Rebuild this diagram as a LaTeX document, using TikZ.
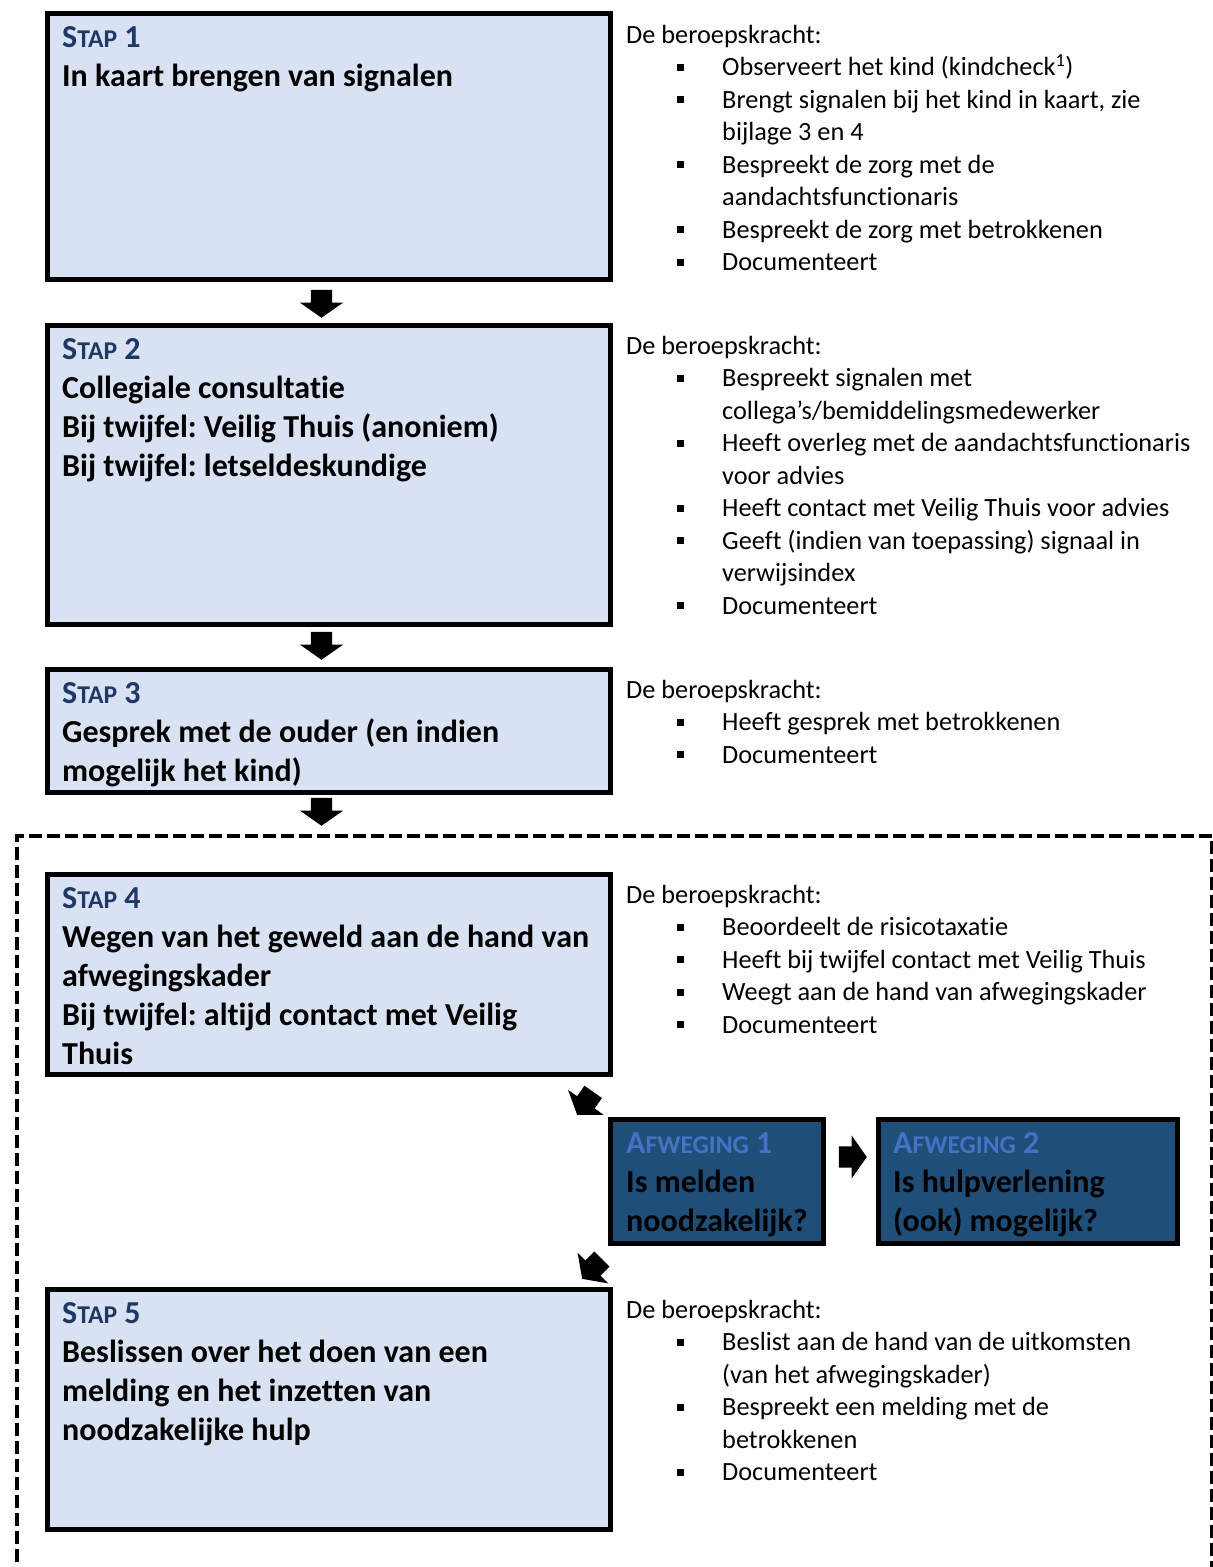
\documentclass[tikz,border=0pt]{standalone}
\usepackage{fontspec}
\setmainfont{Carlito}[Ligatures={NoCommon,NoContextual}]
\usetikzlibrary{shapes.arrows}
\definecolor{stapfill}{HTML}{D9E2F3}
\definecolor{stapnavy}{HTML}{1F3864}
\definecolor{afwfill}{HTML}{1F4E79}
\definecolor{afwtitle}{HTML}{4472C4}
\newcommand\mytitle[3]{#1{\fontsize{25.6}{39}\selectfont #2} #3}
\newcommand\bul{\hspace*{51pt}\rule[5pt]{7pt}{7pt}\hspace*{38pt}}
\newcommand\cont{\hspace*{96pt}}
\frenchspacing
\begin{document}
\begin{tikzpicture}[x=1pt,y=-1pt,
  stapbox/.style={draw=black, line width=5pt, fill=stapfill, anchor=north west, inner sep=0pt, outer sep=0pt},
  afwbox/.style={draw=black, line width=5pt, fill=afwfill, anchor=north west, inner sep=0pt, outer sep=0pt},
  boldtext/.style={anchor=base west, inner sep=0pt, font=\fontsize{32}{39}\selectfont\bfseries},
  listtext/.style={anchor=base west, inner sep=0pt, font=\fontsize{26.3}{32.5}\selectfont},
  blockarrow/.style={single arrow, fill=black, draw=none, inner xsep=0pt, inner ysep=10.5pt, single arrow head extend=11pt, single arrow tip angle=110, minimum height=28pt, anchor=tip},
  framestyle/.style={line width=3.5pt, dash pattern=on 13pt off 5pt}
]
\useasboundingbox (0,0) rectangle (1213,1567);

% dashed frame
\coordinate (fBL) at (17,1580);
\coordinate (fTL) at (17,836);
\coordinate (fTR) at (1212,836);
\coordinate (fBR) at (1212,1580);
\draw[framestyle] (fBL) -- (fTL) -- (fTR) -- (fBR);

% boxes
\node[stapbox, minimum width=563pt, minimum height=266pt] (s1) at (47.5,13.5) {};
\node[stapbox, minimum width=563pt, minimum height=299pt] (s2) at (47.5,325.5) {};
\node[stapbox, minimum width=563pt, minimum height=123pt] (s3) at (47.5,669.5) {};
\node[stapbox, minimum width=563pt, minimum height=200pt] (s4) at (47.5,874.5) {};
\node[stapbox, minimum width=563pt, minimum height=240pt] (s5) at (47.5,1289.5) {};
\node[afwbox, minimum width=213pt, minimum height=124pt] (a1) at (610.5,1119.5) {};
\node[afwbox, minimum width=299pt, minimum height=124pt] (a2) at (878.5,1119.5) {};

% box texts
\node[boldtext] (s1t) at (62,47) {\begin{tabular}[t]{@{}l@{}}
{\color{stapnavy}\mytitle{S}{TAP}{1}}\\
In kaart brengen van signalen\end{tabular}};
\node[boldtext] (s2t) at (62,359) {\begin{tabular}[t]{@{}l@{}}
{\color{stapnavy}\mytitle{S}{TAP}{2}}\\
Collegiale consultatie\\
Bij twijfel: Veilig Thuis (anoniem)\\
Bij twijfel: letseldeskundige\end{tabular}};
\node[boldtext] (s3t) at (62,703) {\begin{tabular}[t]{@{}l@{}}
{\color{stapnavy}\mytitle{S}{TAP}{3}}\\
Gesprek met de ouder (en indien\\
mogelijk het kind)\end{tabular}};
\node[boldtext] (s4t) at (62,908) {\begin{tabular}[t]{@{}l@{}}
{\color{stapnavy}\mytitle{S}{TAP}{4}}\\
Wegen van het geweld aan de hand van\\
afwegingskader\\
Bij twijfel: altijd contact met Veilig\\
Thuis\end{tabular}};
\node[boldtext] (s5t) at (62,1323) {\begin{tabular}[t]{@{}l@{}}
{\color{stapnavy}\mytitle{S}{TAP}{5}}\\
Beslissen over het doen van een\\
melding en het inzetten van\\
noodzakelijke hulp\end{tabular}};
\node[boldtext] (a1t) at (626,1153) {\begin{tabular}[t]{@{}l@{}}
{\color{afwtitle}\mytitle{A}{FWEGING}{1}}\\
Is melden\\
noodzakelijk?\end{tabular}};
\node[boldtext] (a2t) at (893,1153) {\begin{tabular}[t]{@{}l@{}}
{\color{afwtitle}\mytitle{A}{FWEGING}{2}}\\
Is hulpverlening\\
(ook) mogelijk?\end{tabular}};

% right lists
\node[listtext] (r1) at (626,43) {\begin{tabular}[t]{@{}l@{}}
De beroepskracht:\\
\bul Observeert het kind (kindcheck\textsuperscript{1})\\
\bul Brengt signalen bij het kind in kaart, zie\\
\cont bijlage 3 en 4\\
\bul Bespreekt de zorg met de\\
\cont aandachtsfunctionaris\\
\bul Bespreekt de zorg met betrokkenen\\
\bul Documenteert\end{tabular}};
\node[listtext] (r2) at (626,354) {\begin{tabular}[t]{@{}l@{}}
De beroepskracht:\\
\bul Bespreekt signalen met\\
\cont collega’s/bemiddelingsmedewerker\\
\bul Heeft overleg met de aandachtsfunctionaris\\
\cont voor advies\\
\bul Heeft contact met Veilig Thuis voor advies\\
\bul Geeft (indien van toepassing) signaal in\\
\cont verwijsindex\\
\bul Documenteert\end{tabular}};
\node[listtext] (r3) at (626,698) {\begin{tabular}[t]{@{}l@{}}
De beroepskracht:\\
\bul Heeft gesprek met betrokkenen\\
\bul Documenteert\end{tabular}};
\node[listtext] (r4) at (626,903) {\begin{tabular}[t]{@{}l@{}}
De beroepskracht:\\
\bul Beoordeelt de risicotaxatie\\
\bul Heeft bij twijfel contact met Veilig Thuis\\
\bul Weegt aan de hand van afwegingskader\\
\bul Documenteert\end{tabular}};
\node[listtext] (r5) at (626,1318) {\begin{tabular}[t]{@{}l@{}}
De beroepskracht:\\
\bul Beslist aan de hand van de uitkomsten\\
\cont (van het afwegingskader)\\
\bul Bespreekt een melding met de\\
\cont betrokkenen\\
\bul Documenteert\end{tabular}};

% block arrows
\node[blockarrow, rotate=-90] (ar1) at (321.5,318) {};
\node[blockarrow, rotate=-90] (ar2) at (321.5,660) {};
\node[blockarrow, rotate=-90] (ar3) at (321.5,826) {};
\node[blockarrow] (ar4) at (867,1157) {};
\node[blockarrow, rotate=-125] (ar5) at (577,1115) {};
\node[blockarrow, rotate=-135] (ar6) at (582,1279) {};
\end{tikzpicture}
\end{document}
